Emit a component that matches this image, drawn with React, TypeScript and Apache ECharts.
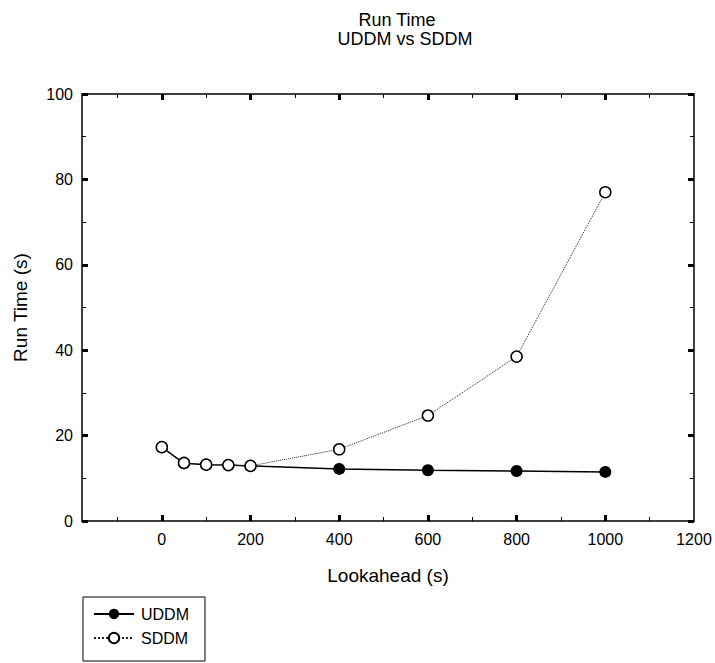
import React, { useEffect, useRef } from "react";
import * as echarts from "echarts";

const lookaheadMajor = [0, 200, 400, 600, 800, 1000];
const lookaheadLabels = [0, 200, 400, 600, 800, 1000, 1200];
const lookaheadMinor = [-100, 100, 300, 500, 700, 900, 1100];

const uddmX = [0, 50, 100, 150, 200, 400, 600, 800, 1000];
const uddmY = [17.3, 13.5, 13.2, 13.1, 12.9, 12.2, 11.9, 11.7, 11.5];

const sddmX = [0, 50, 100, 150, 200, 400, 600, 800, 1000];
const sddmY = [17.3, 13.6, 13.2, 13.1, 12.9, 16.8, 24.7, 38.5, 77.0];

const FONT = "'Liberation Sans', Arial, sans-serif";

export default function App() {
  const ref = useRef<HTMLDivElement>(null);

  useEffect(() => {
    if (!ref.current) return;
    const chart = echarts.init(ref.current, null, { renderer: "svg" });
    const xBase = { type: "value", min: -180, max: 1200, gridIndex: 0, splitLine: { show: false } };
    const lineStyle = { color: "#000", width: 1.5 };
    chart.setOption({
      animation: false,
      backgroundColor: "#fff",
      textStyle: { fontFamily: FONT },
      title: [
        { text: "Run Time", left: 392, top: 6, textAlign: "center", textStyle: { fontSize: 18, fontWeight: "normal", color: "#000", fontFamily: FONT } },
        { text: "UDDM vs SDDM", left: 400, top: 25, textAlign: "center", textStyle: { fontSize: 18, fontWeight: "normal", color: "#000", fontFamily: FONT } },
      ],
      grid: { left: 82, right: 21, top: 94, bottom: 142, containLabel: false },
      legend: {
        data: ["UDDM", "SDDM"],
        orient: "vertical",
        left: 83,
        top: 597,
        itemWidth: 40,
        itemHeight: 13,
        itemGap: 8,
        padding: [9, 16, 15, 10],
        borderColor: "#000",
        borderWidth: 1,
        textStyle: { fontSize: 16, color: "#000", fontFamily: FONT, padding: [0, 0, 0, 2] },
      },
      xAxis: [
        {
          ...xBase,
          position: "bottom",
          name: "Lookahead (s)",
          nameLocation: "middle",
          nameGap: 45,
          nameTextStyle: { fontSize: 19, color: "#000", fontFamily: FONT },
          axisLine: { show: true, onZero: false, lineStyle },
          axisTick: { show: true, inside: true, length: 6, customValues: lookaheadMajor, lineStyle: { color: "#000", width: 3 } },
          axisLabel: { show: true, customValues: lookaheadLabels, fontSize: 16, color: "#000", margin: 10, fontFamily: FONT, formatter: (v: number) => String(v) },
        },
        {
          ...xBase,
          position: "bottom",
          axisLine: { show: false, onZero: false },
          axisTick: { show: true, inside: true, length: 4, customValues: lookaheadMinor, lineStyle: { color: "#000", width: 1 } },
          axisLabel: { show: false },
        },
        {
          ...xBase,
          position: "top",
          axisLine: { show: true, onZero: false, lineStyle },
          axisTick: { show: true, inside: true, length: 6, customValues: lookaheadMajor, lineStyle: { color: "#000", width: 3 } },
          axisLabel: { show: false },
        },
        {
          ...xBase,
          position: "top",
          axisLine: { show: false, onZero: false },
          axisTick: { show: true, inside: true, length: 4, customValues: lookaheadMinor, lineStyle: { color: "#000", width: 1 } },
          axisLabel: { show: false },
        },
      ],
      yAxis: [
        {
          type: "value",
          min: 0,
          max: 100,
          interval: 20,
          position: "left",
          name: "Run Time (s)",
          nameLocation: "middle",
          nameGap: 52,
          nameTextStyle: { fontSize: 19, color: "#000", fontFamily: FONT },
          axisLine: { show: true, onZero: false, lineStyle },
          axisTick: { show: true, inside: true, length: 6, lineStyle: { color: "#000", width: 3 } },
          minorTick: { show: true, splitNumber: 2, length: 4, lineStyle: { color: "#000", width: 1 } },
          axisLabel: { fontSize: 16, color: "#000", margin: 9, fontFamily: FONT },
          splitLine: { show: false },
        },
        {
          type: "value",
          min: 0,
          max: 100,
          interval: 20,
          position: "right",
          axisLine: { show: true, onZero: false, lineStyle },
          axisTick: { show: true, inside: true, length: 6, lineStyle: { color: "#000", width: 3 } },
          minorTick: { show: true, splitNumber: 2, length: 4, lineStyle: { color: "#000", width: 1 } },
          axisLabel: { show: false },
          splitLine: { show: false },
        },
      ],
      series: [
        {
          name: "UDDM",
          type: "line",
          xAxisIndex: 0,
          yAxisIndex: 0,
          data: uddmX.map((x, i) => [x, uddmY[i]]),
          symbol: "circle",
          symbolSize: 12,
          itemStyle: { color: "#000" },
          lineStyle: { color: "#000", width: 1.5 },
          z: 2,
        },
        {
          name: "SDDM",
          type: "line",
          xAxisIndex: 0,
          yAxisIndex: 0,
          data: sddmX.map((x, i) => [x, sddmY[i]]),
          symbol: "circle",
          symbolSize: 11,
          showAllSymbol: true,
          itemStyle: { color: "#fff", borderColor: "#000", borderWidth: 1.5 },
          lineStyle: { color: "#222", width: 1, type: "dotted" },
          z: 3,
        },
      ],
    });
    return () => chart.dispose();
  }, []);

  return <div ref={ref} style={{ position: "fixed", left: 0, top: 0, width: 715, height: 663 }} />;
}
